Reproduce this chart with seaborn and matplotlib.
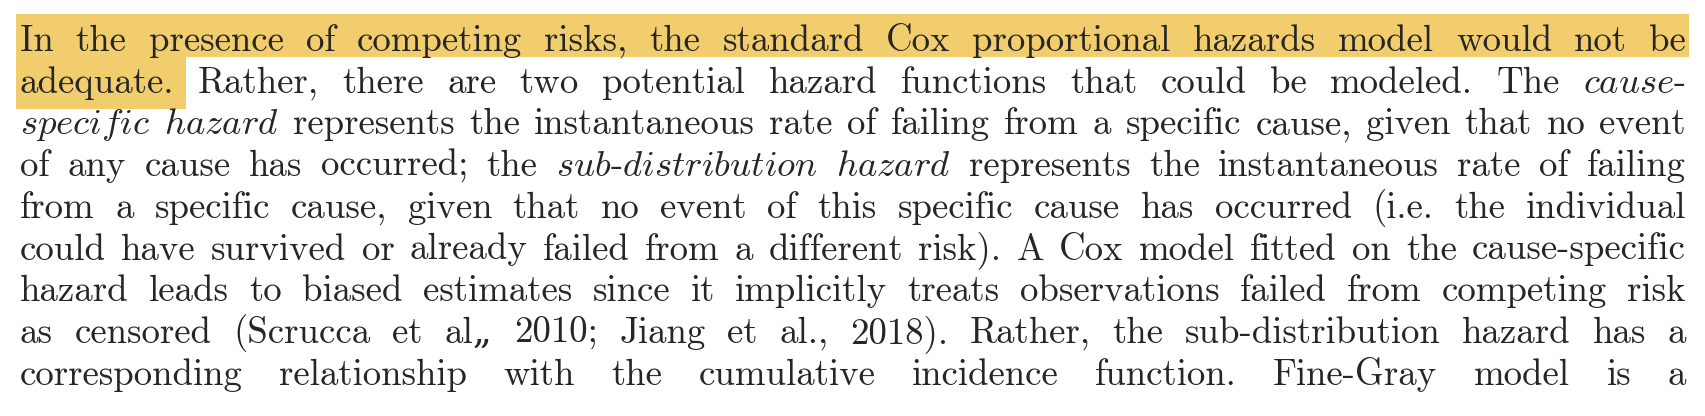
import matplotlib
matplotlib.use('Agg')
import matplotlib.pyplot as plt
import seaborn as sns
from matplotlib.patches import Rectangle

sns.set_theme(style='white')
plt.rcParams['font.family'] = ['cmr10', 'DejaVu Serif']
plt.rcParams['mathtext.fontset'] = 'cm'
plt.rcParams['axes.formatter.use_mathtext'] = True

# paragraph lines; words wrapped in *...* are italic
lines = [
    "In the presence of competing risks, the standard Cox proportional hazards model would not be",
    "adequate. Rather, there are two potential hazard functions that could be modeled. The *cause-*",
    "*specific* *hazard* represents the instantaneous rate of failing from a specific cause, given that no event",
    "of any cause has occurred; the *sub-distribution* *hazard* represents the instantaneous rate of failing",
    "from a specific cause, given that no event of this specific cause has occurred (i.e. the individual",
    "could have survived or already failed from a different risk). A Cox model fitted on the cause-specific",
    "hazard leads to biased estimates since it implicitly treats observations failed from competing risk",
    "as censored (Scrucca et al\u201e 2010; Jiang et al., 2018). Rather, the sub-distribution hazard has a",
    "corresponding relationship with the cumulative incidence function. Fine-Gray model is a",
]

W, H = 1706, 416
fig = plt.figure(figsize=(W / 100, H / 100), dpi=100)
ax = fig.add_axes([0, 0, 1, 1])
ax.set_xlim(0, W)
ax.set_ylim(H, 0)
ax.axis('off')

hl = '#F2CD6E'
ax.add_patch(Rectangle((16, 14), 1673, 43, color=hl, lw=0))
ax.add_patch(Rectangle((16, 57), 170, 52, color=hl, lw=0))

left, right = 20, 1686
y0, dy = 51, 41.7
fs = 26.5
renderer = fig.canvas.get_renderer()


def token(w):
    if w.startswith('*'):
        w = w.strip('*')
        parts = w.split('-')
        inner = r'\text{-}'.join(r'\mathit{%s}' % p for p in parts if p)
        if w.endswith('-'):
            inner += r'\text{-}'
        return '$' + inner + '$'
    return w


for i, line in enumerate(lines):
    y = y0 + i * dy
    words = [token(w) for w in line.split(' ')]
    texts = [ax.text(0, y, w, fontsize=fs, va='baseline', ha='left') for w in words]
    widths = [t.get_window_extent(renderer).width for t in texts]
    gap = (right - left - sum(widths)) / max(len(words) - 1, 1)
    x = left
    for t, wd in zip(texts, widths):
        t.set_x(x)
        x += wd + gap

fig.savefig('out.png', dpi=100, facecolor='white')
